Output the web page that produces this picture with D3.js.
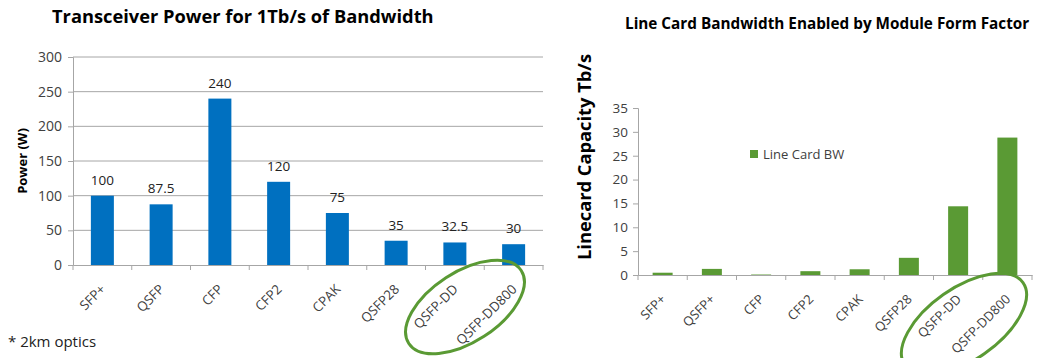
<!DOCTYPE html>
<html>
<head>
<meta charset="utf-8">
<script src="https://cdn.jsdelivr.net/npm/d3@7"></script>
<style>
  body { margin: 0; background: #fff; }
  svg { display: block; font-family: "Open Sans", "DejaVu Sans", sans-serif; }
</style>
</head>
<body>
<svg id="chart" width="1044" height="358"></svg>
<script>
// left chart: transceiver power
var powerCats = ["SFP+", "QSFP", "CFP", "CFP2", "CPAK", "QSFP28", "QSFP-DD", "QSFP-DD800"];
var powerVals = [100, 87.5, 240, 120, 75, 35, 32.5, 30];
var powerTicks = [0, 50, 100, 150, 200, 250, 300];

// right chart: line card bandwidth
var bwCats = ["SFP+", "QSFP+", "CFP", "CFP2", "CPAK", "QSFP28", "QSFP-DD", "QSFP-DD800"];
var bwVals = [0.48, 1.28, 0.1, 0.8, 1.2, 3.6, 14.4, 28.8];
var bwTicks = [0, 5, 10, 15, 20, 25, 30, 35];

var svg = d3.select("#chart");
var blue = "#0070C0", green = "#5A9A34", grid = "#A6A6A6", txt = "#404040";

// ---- left chart ----
(function() {
  var xb = d3.scaleBand().domain(powerCats).range([73, 543]);
  var y = d3.scaleLinear().domain([0, 300]).range([265, 57]);
  var g = svg.append("g");

  g.append("text").attr("x", 52).attr("y", 23)
    .attr("font-size", 18.3).attr("font-weight", "bold").attr("fill", "#000")
    .text("Transceiver Power for 1Tb/s of Bandwidth");

  // gridlines
  g.selectAll("line.grid").data(powerTicks.slice(1)).enter().append("line")
    .attr("x1", 73).attr("x2", 543)
    .attr("y1", function(d) { return y(d); }).attr("y2", function(d) { return y(d); })
    .attr("stroke", grid).attr("stroke-width", 1);

  var yAxis = g.append("g").attr("transform", "translate(73,0)")
    .call(d3.axisLeft(y).tickValues(powerTicks).tickSize(5).tickPadding(6));
  yAxis.select(".domain").attr("stroke", grid);
  yAxis.selectAll(".tick line").attr("stroke", grid);
  yAxis.selectAll(".tick text").attr("font-size", 14).attr("fill", txt)
    .attr("font-family", "Open Sans, sans-serif");

  var xAxis = g.append("g").attr("transform", "translate(0,265)")
    .call(d3.axisBottom(xb).tickSize(0).tickFormat(""));
  xAxis.select(".domain").attr("stroke", grid);
  g.selectAll("line.xt").data(d3.range(powerCats.length + 1)).enter().append("line")
    .attr("x1", function(i) { return 73 + i * xb.step(); })
    .attr("x2", function(i) { return 73 + i * xb.step(); })
    .attr("y1", 265).attr("y2", 270).attr("stroke", grid);

  g.selectAll("rect.bar").data(powerVals).enter().append("rect")
    .attr("x", function(d, i) { return xb(powerCats[i]) + (xb.bandwidth() - 23) / 2; })
    .attr("width", 23)
    .attr("y", function(d) { return y(d); })
    .attr("height", function(d) { return 265 - y(d); })
    .attr("fill", blue);

  g.selectAll("text.val").data(powerVals).enter().append("text")
    .attr("x", function(d, i) { return xb(powerCats[i]) + xb.bandwidth() / 2; })
    .attr("y", function(d) { return y(d) - 11; })
    .attr("text-anchor", "middle").attr("font-size", 13.5).attr("fill", "#222")
    .text(function(d) { return d; });

  g.selectAll("text.cat").data(powerCats).enter().append("text")
    .attr("transform", function(d) {
      return "translate(" + (xb(d) + xb.bandwidth() / 2 + 4) + ",290) rotate(-45)";
    })
    .attr("text-anchor", "end").attr("font-size", 13.3).attr("fill", txt)
    .text(function(d) { return d; });

  g.append("text").attr("transform", "translate(27,161) rotate(-90)")
    .attr("text-anchor", "middle").attr("font-size", 13).attr("font-weight", "bold")
    .attr("fill", "#000").text("Power (W)");

  g.append("text").attr("x", 8).attr("y", 347).attr("font-size", 15).attr("fill", "#222")
    .text("* 2km optics");

  g.append("ellipse").attr("cx", 465).attr("cy", 307).attr("rx", 67).attr("ry", 35)
    .attr("transform", "rotate(-33,465,307)")
    .attr("fill", "none").attr("stroke", green).attr("stroke-width", 3);
})();

// ---- right chart ----
(function() {
  var xb = d3.scaleBand().domain(bwCats).range([638, 1032]);
  var y = d3.scaleLinear().domain([0, 35]).range([275, 108]);
  var g = svg.append("g");

  g.append("text").attr("x", 625).attr("y", 29)
    .attr("font-size", 15.3).attr("font-weight", "bold").attr("fill", "#000")
    .text("Line Card Bandwidth Enabled by Module Form Factor");

  var yAxis = g.append("g").attr("transform", "translate(638,0)")
    .call(d3.axisLeft(y).tickValues(bwTicks).tickSize(5).tickPadding(5));
  yAxis.select(".domain").attr("stroke", grid);
  yAxis.selectAll(".tick line").attr("stroke", grid);
  yAxis.selectAll(".tick text").attr("font-size", 13.5).attr("fill", txt)
    .attr("font-family", "Open Sans, sans-serif");

  var xAxis = g.append("g").attr("transform", "translate(0,275)")
    .call(d3.axisBottom(xb).tickSize(0).tickFormat(""));
  xAxis.select(".domain").attr("stroke", grid);
  g.selectAll("line.xt").data(d3.range(bwCats.length + 1)).enter().append("line")
    .attr("x1", function(i) { return 638 + i * xb.step(); })
    .attr("x2", function(i) { return 638 + i * xb.step(); })
    .attr("y1", 275).attr("y2", 280).attr("stroke", grid);

  g.selectAll("rect.bar").data(bwVals).enter().append("rect")
    .attr("x", function(d, i) { return xb(bwCats[i]) + (xb.bandwidth() - 20) / 2; })
    .attr("width", 20)
    .attr("y", function(d) { return y(d); })
    .attr("height", function(d) { return 275 - y(d); })
    .attr("fill", green);

  g.selectAll("text.cat").data(bwCats).enter().append("text")
    .attr("transform", function(d) {
      return "translate(" + (xb(d) + xb.bandwidth() / 2 + 4) + ",300) rotate(-45)";
    })
    .attr("text-anchor", "end").attr("font-size", 13).attr("fill", txt)
    .text(function(d) { return d; });

  g.append("text").attr("transform", "translate(591,157) rotate(-90)")
    .attr("text-anchor", "middle").attr("font-size", 18.3).attr("font-weight", "bold")
    .attr("fill", "#000").text("Linecard Capacity Tb/s");

  // legend
  g.append("rect").attr("x", 750).attr("y", 150).attr("width", 8).attr("height", 8).attr("fill", green);
  g.append("text").attr("x", 763).attr("y", 158.5).attr("font-size", 13).attr("fill", txt)
    .text("Line Card BW");

  g.append("ellipse").attr("cx", 964).attr("cy", 324).attr("rx", 72).attr("ry", 36)
    .attr("transform", "rotate(-35,964,324)")
    .attr("fill", "none").attr("stroke", green).attr("stroke-width", 3);
})();
</script>
</body>
</html>
